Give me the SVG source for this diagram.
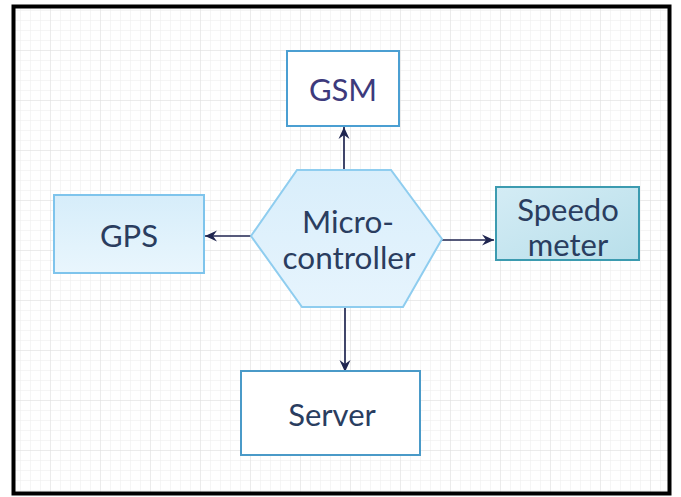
<svg xmlns="http://www.w3.org/2000/svg" width="681" height="497" viewBox="0 0 681 497">
  <defs>
    <pattern id="grid-fine" width="10" height="10" patternUnits="userSpaceOnUse">
      <path d="M10 0H0V10" fill="none" stroke="#ebebeb" stroke-width="1"/>
    </pattern>
    <pattern id="grid" width="50" height="50" patternUnits="userSpaceOnUse">
      <rect width="50" height="50" fill="url(#grid-fine)"/>
      <path d="M50 0H0V50" fill="none" stroke="#e0e0e0" stroke-width="1"/>
    </pattern>
    <linearGradient id="lightBlue" x1="0" y1="0" x2="0" y2="1">
      <stop offset="0" stop-color="#d6edfa"/>
      <stop offset="1" stop-color="#e9f6fd"/>
    </linearGradient>
    <linearGradient id="hexFill" x1="0" y1="0" x2="0" y2="1">
      <stop offset="0" stop-color="#d9eefb"/>
      <stop offset="1" stop-color="#e6f4fd"/>
    </linearGradient>
    <linearGradient id="teal" x1="0" y1="0" x2="1" y2="1">
      <stop offset="0" stop-color="#d4ecf5"/>
      <stop offset="1" stop-color="#b8dfea"/>
    </linearGradient>
    <marker id="arrow" viewBox="0 0 14 14" refX="13" refY="7" markerWidth="14" markerHeight="14" markerUnits="userSpaceOnUse" orient="auto">
      <path d="M1 1.5 L13 7 L1 12.5 L5 7 Z" fill="#1f2550"/>
    </marker>
    <style>
      .label { font-family: Lato, "Open Sans", "Liberation Sans", sans-serif; font-size: 31px; text-anchor: middle; dominant-baseline: central; fill: #2a3d5f; }
      .edge { fill: none; stroke: #1f2550; stroke-width: 1.7; marker-end: url(#arrow); }
    </style>
  </defs>

  <!-- canvas -->
  <rect x="0" y="0" width="681" height="497" fill="#ffffff"/>
  <rect x="14" y="7" width="655" height="486" fill="url(#grid)"/>
  <rect x="13.5" y="6.5" width="656" height="487" fill="none" stroke="#000000" stroke-width="4"/>

  <!-- connectors -->
  <g id="connectors">
    <line class="edge" x1="344" y1="170" x2="344" y2="127"/>
    <line class="edge" x1="251" y1="236" x2="205" y2="236"/>
    <line class="edge" x1="442" y1="240" x2="494" y2="240"/>
    <line class="edge" x1="345" y1="307" x2="345" y2="372"/>
  </g>

  <g id="gsm">
    <rect x="287" y="51" width="112" height="75" fill="#ffffff" stroke="#4b9fd2" stroke-width="2"/>
    <text class="label" x="343" y="89" style="fill:#3d3a7c">GSM</text>
  </g>

  <g id="gps">
    <rect x="54" y="195" width="150" height="78" fill="url(#lightBlue)" stroke="#7ec4ec" stroke-width="2"/>
    <text class="label" x="129" y="235">GPS</text>
  </g>

  <g id="microcontroller">
    <polygon points="251,236 297,170 391,170 442,239 403,307 302,307" fill="url(#hexFill)" stroke="#8fcdef" stroke-width="2"/>
    <text class="label" x="348" y="221" style="font-size:31.5px">Micro-</text>
    <text class="label" x="349" y="257" style="font-size:31.5px">controller</text>
  </g>

  <g id="speedometer">
    <rect x="496" y="187" width="143" height="73" fill="url(#teal)" stroke="#3c9bb0" stroke-width="2"/>
    <text class="label" x="568" y="209">Speedo</text>
    <text class="label" x="568" y="244">meter</text>
  </g>

  <g id="server">
    <rect x="241" y="371" width="179" height="84" fill="#ffffff" stroke="#4a9ac8" stroke-width="2"/>
    <text class="label" x="332" y="414">Server</text>
  </g>
</svg>
